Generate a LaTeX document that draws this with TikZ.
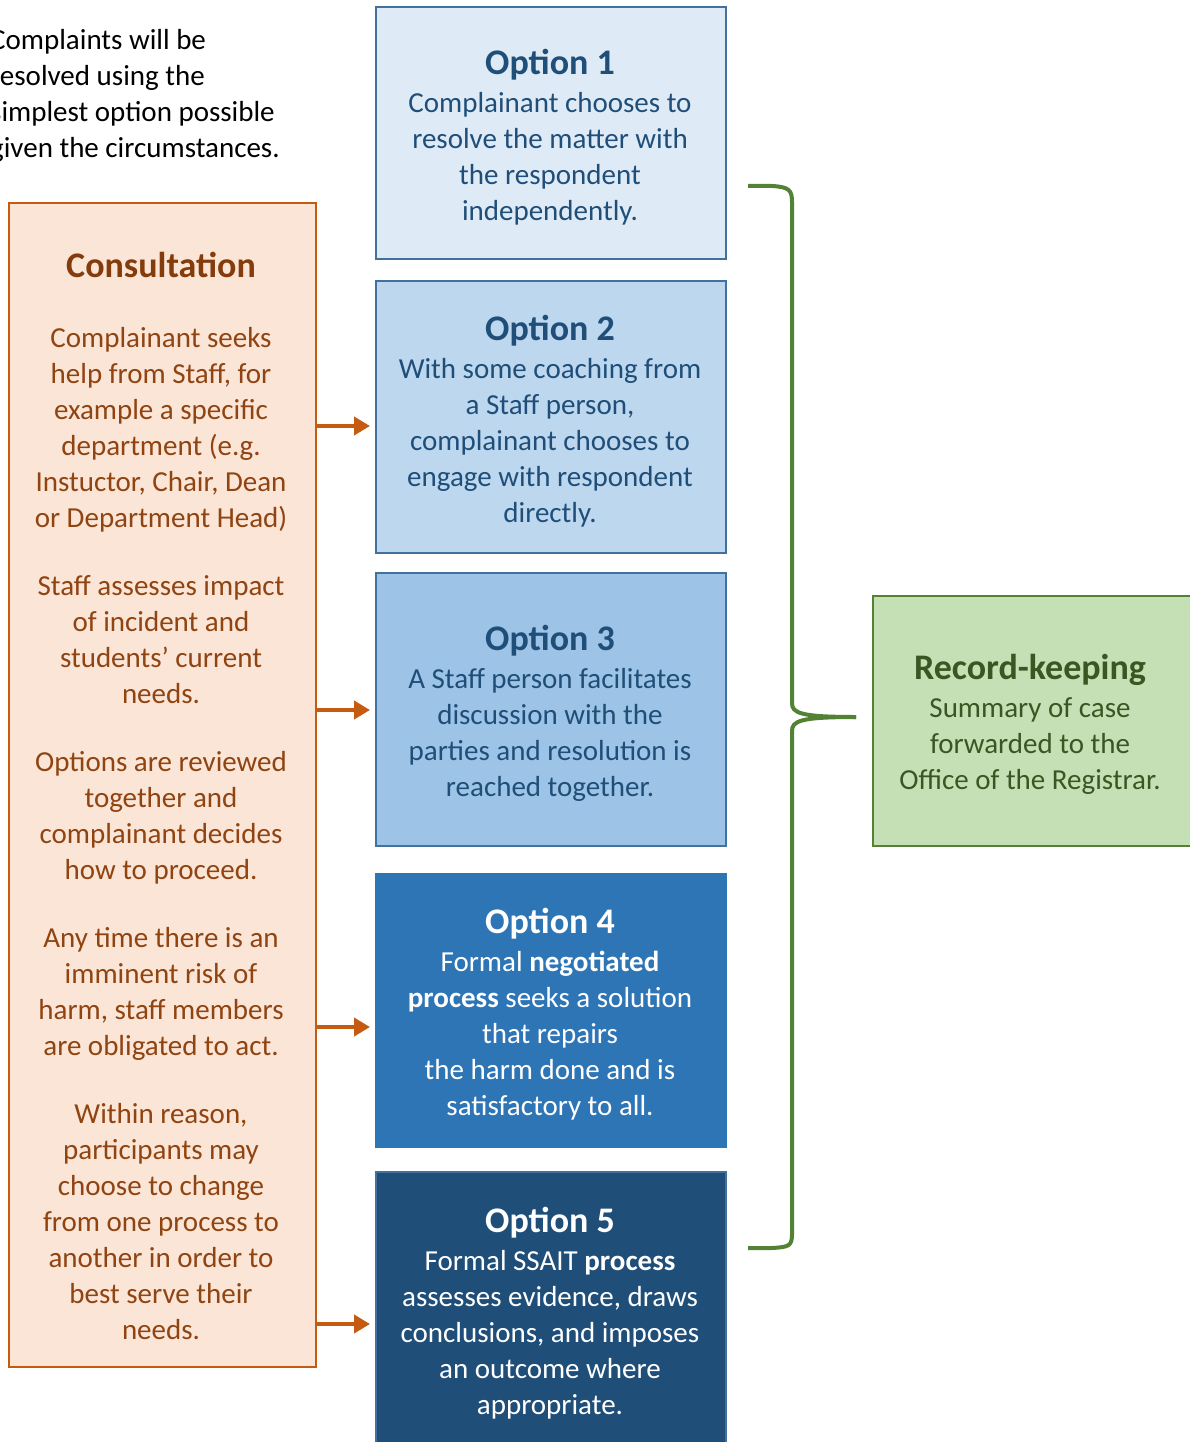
\documentclass[tikz,border=0pt]{standalone}
\usepackage{fontspec}
\setmainfont{Carlito}
\usetikzlibrary{arrows.meta}
\definecolor{o1}{HTML}{DEEBF7}
\definecolor{o2}{HTML}{BDD7EE}
\definecolor{o3}{HTML}{9DC3E6}
\definecolor{o4}{HTML}{2E75B6}
\definecolor{o5}{HTML}{1F4E79}
\definecolor{oborder}{HTML}{41719C}
\definecolor{otext}{HTML}{1F4E79}
\definecolor{cfill}{HTML}{FBE5D6}
\definecolor{cborder}{HTML}{C55A11}
\definecolor{ctitle}{HTML}{843C0C}
\definecolor{ctext}{HTML}{8F4412}
\definecolor{rfill}{HTML}{C5E0B4}
\definecolor{rborder}{HTML}{548235}
\definecolor{rtext}{HTML}{385723}
\newcommand{\ttlfont}{\fontsize{36}{40}\selectfont\bfseries}
\tikzset{
  box/.style={draw, line width=2.2pt, rectangle, inner sep=0pt, anchor=north west},
  txt/.style={align=center, inner sep=0pt, font=\fontsize{29}{36}\selectfont},
  arr/.style={draw=cborder, line width=4.5pt, -{Triangle[length=16pt,width=18pt]}, shorten >=5pt},
  bracestyle/.style={draw=rborder, line width=4pt}
}
\begin{document}
\begin{tikzpicture}[x=1pt,y=-1pt]
\useasboundingbox (0,0) rectangle (1189,1442);
% intro text
\node[align=left, inner sep=0pt, anchor=west, font=\fontsize{29}{36}\selectfont] (intro) at (-10,96)
  {Complaints will be\\ resolved using the\\ simplest option possible\\ given the circumstances.};
% consultation
\node[box, draw=cborder, fill=cfill, minimum width=307pt, minimum height=1164pt] (cons) at (8,202) {};
\node[txt, text=ctext, anchor=north] (constxt) at (161,252)
  {{\ttlfont\color{ctitle}Consultation}\\[34pt]
   Complainant seeks\\ help from Staff, for\\ example a specific\\ department (e.g.\\ Instuctor, Chair, Dean\\ or Department Head)\\[32pt]
   Staff assesses impact\\ of incident and\\ students' current\\ needs.\\[32pt]
   Options are reviewed\\ together and\\ complainant decides\\ how to proceed.\\[32pt]
   Any time there is an\\ imminent risk of\\ harm, staff members\\ are obligated to act.\\[32pt]
   Within reason,\\ participants may\\ choose to change\\ from one process to\\ another in order to\\ best serve their\\ needs.};
% options
\node[box, draw=oborder, fill=o1, minimum width=350pt, minimum height=252pt] (opt1) at (375,6) {};
\node[box, draw=oborder, fill=o2, minimum width=350pt, minimum height=272pt] (opt2) at (375,280) {};
\node[box, draw=oborder, fill=o3, minimum width=350pt, minimum height=273pt] (opt3) at (375,572) {};
\node[box, draw=o4, fill=o4, minimum width=350pt, minimum height=273pt] (opt4) at (375,873) {};
\node[box, draw=oborder, fill=o5, minimum width=350pt, minimum height=290pt] (opt5) at (375,1171) {};
\node[txt, text=otext, anchor=north] (t1) at (550,49)
  {{\ttlfont Option 1}\\[2pt] Complainant chooses to\\ resolve the matter with\\ the respondent\\ independently.};
\node[txt, text=otext, anchor=north] (t2) at (550,315)
  {{\ttlfont Option 2}\\[2pt] With some coaching from\\ a Staff person,\\ complainant chooses to\\ engage with respondent\\ directly.};
\node[txt, text=otext, anchor=north] (t3) at (550,625)
  {{\ttlfont Option 3}\\[2pt] A Staff person facilitates\\ discussion with the\\ parties and resolution is\\ reached together.};
\node[txt, text=white, anchor=north] (t4) at (550,908)
  {{\ttlfont Option 4}\\[2pt] Formal \textbf{negotiated}\\ \textbf{process} seeks a solution\\ that repairs\\ the harm done and is\\ satisfactory to all.};
\node[txt, text=white, anchor=north] (t5) at (550,1207)
  {{\ttlfont Option 5}\\[2pt] Formal SSAIT \textbf{process}\\ assesses evidence, draws\\ conclusions, and imposes\\ an outcome where\\ appropriate.};
% record keeping
\node[box, draw=rborder, fill=rfill, minimum width=320pt, minimum height=250pt] (rec) at (872,595) {};
\node[txt, text=rtext, anchor=north] (rtxt) at (1030,654)
  {{\ttlfont Record-keeping}\\[2pt] Summary of case\\ forwarded to the\\ Office of the Registrar.};
% arrows
\draw[arr] (cons.east |- 0,426) -- (opt2.west |- 0,426);
\draw[arr] (cons.east |- 0,710) -- (opt3.west |- 0,710);
\draw[arr] (cons.east |- 0,1027) -- (opt4.west |- 0,1027);
\draw[arr] (cons.east |- 0,1324) -- (opt5.west |- 0,1324);
% brace
\coordinate (btop) at (748,186);
\coordinate (bbot) at (748,1248);
\coordinate (btip) at (856,717);
\draw[bracestyle] (btop) -- (772,186) .. controls (789,187) and (792,190) .. (792,202)
  -- (792,703) .. controls (792,713) and (800,717) .. (btip);
\draw[bracestyle] (btip) .. controls (800,717) and (792,721) .. (792,731)
  -- (792,1234) .. controls (792,1246) and (789,1247) .. (772,1248) -- (bbot);
\end{tikzpicture}
\end{document}
